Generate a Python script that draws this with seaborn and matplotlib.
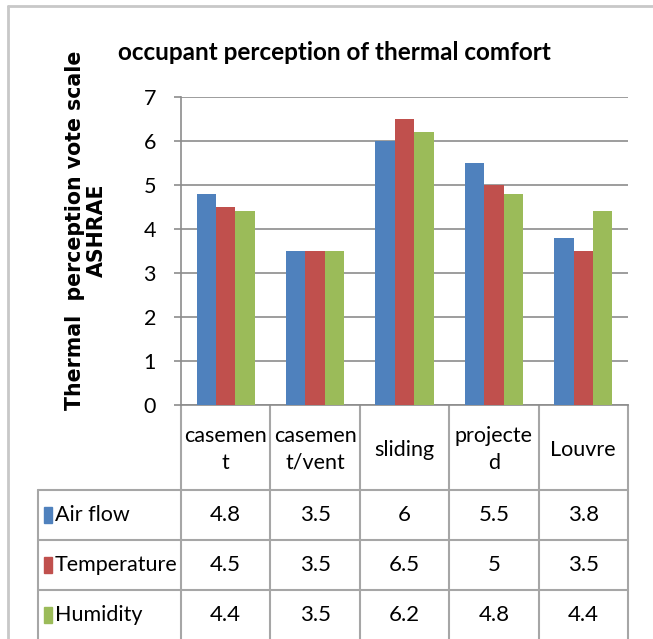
import matplotlib
matplotlib.use("Agg")
import matplotlib.pyplot as plt
import seaborn as sns
import pandas as pd
from matplotlib.patches import Rectangle

# ---- data ----
categories = ["casement", "casement/vent", "sliding", "projected", "Louvre"]
category_labels = ["casemen\nt", "casemen\nt/vent", "sliding", "projecte\nd", "Louvre"]
series = ["Air flow", "Temperature", "Humidity"]
air_flow = [4.8, 3.5, 6, 5.5, 3.8]
temperature = [4.5, 3.5, 6.5, 5, 3.5]
humidity = [4.4, 3.5, 6.2, 4.8, 4.4]
yticks = [0, 1, 2, 3, 4, 5, 6, 7]
colors = ["#4F81BD", "#C0504D", "#9BBB59"]
title = "occupant perception of thermal comfort"
ylabel1 = "Thermal  perception vote scale"
ylabel2 = "ASHRAE"

sns.set_theme(style="white")
plt.rcParams['font.family'] = ['Lato', 'DejaVu Sans']
plt.rcParams['text.color'] = 'black'

values = [air_flow, temperature, humidity]
rows = []
for s, vals in zip(series, values):
    for c, v in zip(categories, vals):
        rows.append({"category": c, "series": s, "value": v})
df = pd.DataFrame(rows)

W, H = 653, 639
fig = plt.figure(figsize=(W / 100, H / 100), dpi=100)
fig.patch.set_facecolor("white")

def fx(x):
    return x / W

def fy(y):
    return 1 - y / H

L, R, T, B = 181, 628, 97, 405
ax = fig.add_axes([fx(L), fy(B), fx(R) - fx(L), fy(T) - fy(B)])
sns.barplot(data=df, x="category", y="value", hue="series", order=categories,
            hue_order=series, palette=colors, saturation=1, width=0.65,
            ax=ax, legend=False, linewidth=0, zorder=3)
ax.set_xlim(-0.5, len(categories) - 0.5)
ax.set_ylim(0, 7)
ax.set_yticks(yticks)
ax.set_yticklabels([str(t) for t in yticks], fontsize=15.5)
ax.set_xticks([])
ax.set_xlabel("")
ax.set_ylabel("")
ax.yaxis.grid(True, color="#8C8C8C", linewidth=1.2, zorder=0)
ax.set_axisbelow(True)
for sp in ["top", "right"]:
    ax.spines[sp].set_visible(False)
for sp in ["left", "bottom"]:
    ax.spines[sp].set_color("#8C8C8C")
    ax.spines[sp].set_linewidth(1.2)
ax.tick_params(axis="y", which="both", left=True, length=5, width=1.2,
               color="#8C8C8C", pad=13, labelcolor="black")

# ---- overlay for table / frame ----
ov = fig.add_axes([0, 0, 1, 1], zorder=-1)
ov.set_xlim(0, W)
ov.set_ylim(H, 0)
ov.axis("off")

gc = "#A6A6A6"
ov.plot([8, 8], [6, H], color="#C8C8C8", lw=2)
ov.plot([8, W], [6, 6], color="#C8C8C8", lw=2)

n = len(categories)
step = (R - L) / n
xs = [L + i * step for i in range(n + 1)]
header_bottom = 490
row_h = 50
row_tops = [header_bottom + i * row_h for i in range(len(series))]
leg_left = 38

for x in xs:
    ov.plot([x, x], [B, H], color=gc, lw=1.5)
for y in row_tops:
    ov.plot([leg_left, R], [y, y], color=gc, lw=1.5)
ov.plot([leg_left, leg_left], [header_bottom, H], color=gc, lw=1.5)

for i, lab in enumerate(category_labels):
    ov.text(xs[i] + step / 2, (B + header_bottom) / 2 + 2, lab, ha="center",
            va="center", fontsize=15.5, linespacing=1.4)

for r, (s, vals, col) in enumerate(zip(series, values, colors)):
    yc = row_tops[r] + row_h / 2
    ov.add_patch(Rectangle((44, yc - 8), 8, 16, color=col))
    ov.text(55, yc, s, ha="left", va="center", fontsize=15.5)
    for i, v in enumerate(vals):
        ov.text(xs[i] + step / 2, yc, f"{v:g}", ha="center", va="center",
                fontsize=16)

fig.text(fx(334), fy(52), title, ha="center", va="center", fontsize=17.5,
         fontweight="bold")
fig.text(fx(75), fy(230), ylabel1, ha="center", va="center", rotation=90,
         fontsize=14.8, fontweight="bold", family=["DejaVu Sans"])
fig.text(fx(97), fy(230), ylabel2, ha="center", va="center", rotation=90,
         fontsize=14.8, fontweight="bold", family=["DejaVu Sans"])

fig.savefig("out.png", dpi=100, facecolor="white")
